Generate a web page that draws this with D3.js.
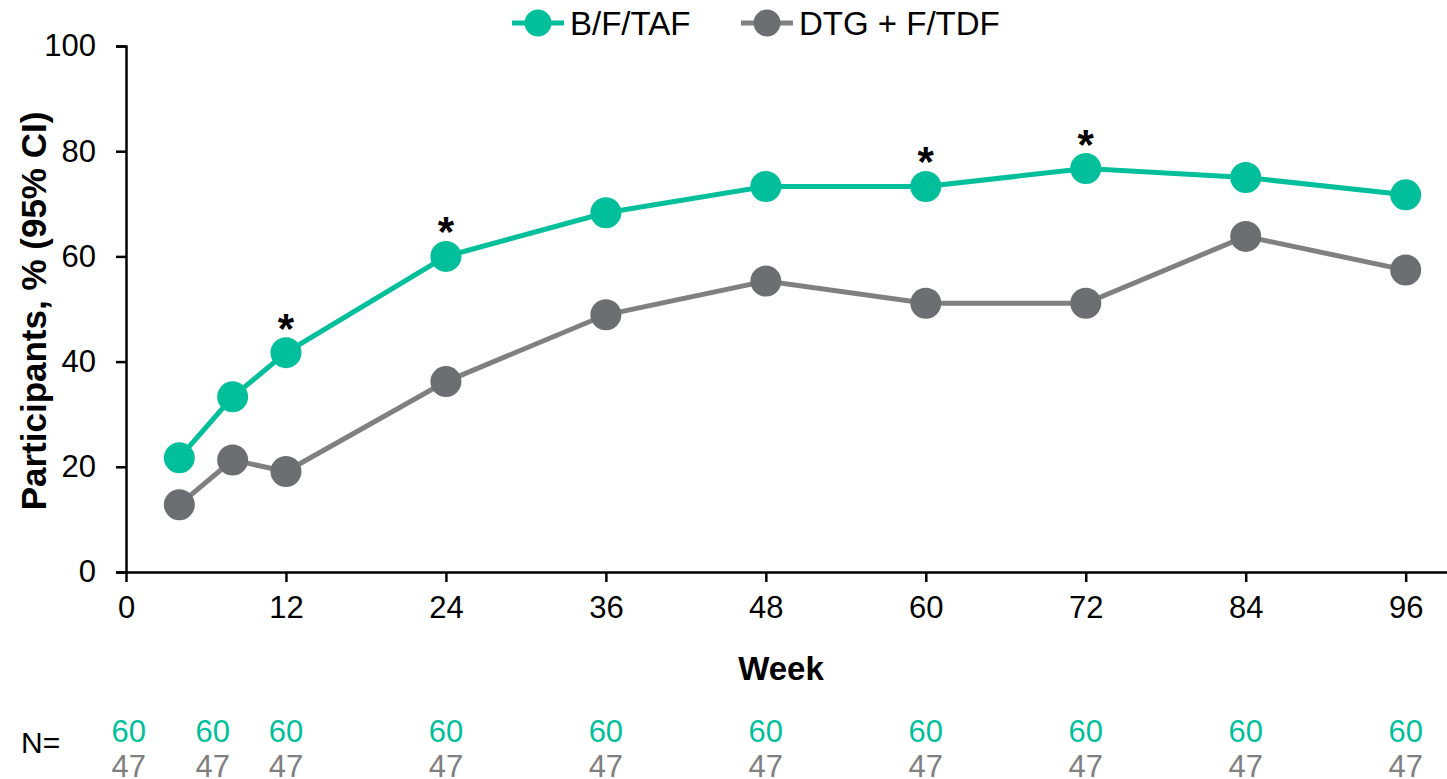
<!DOCTYPE html>
<html>
<head>
<meta charset="utf-8">
<script src="https://cdn.jsdelivr.net/npm/d3@7"></script>
<style>
  html, body { margin: 0; padding: 0; background: #fff; }
  svg { display: block; font-family: "Liberation Sans", Arial, sans-serif; }
  .axis path, .axis line { stroke: #000; stroke-width: 2.5; }
  .axis text { font-size: 31px; fill: #000; }
</style>
</head>
<body>
<svg id="chart"></svg>
<script>
// ── data ────────────────────────────────────────────────────────────────────
const weeks      = [4, 8, 12, 24, 36, 48, 60, 72, 84, 96];
const bftaf      = [21.7, 33.3, 41.7, 60.0, 68.3, 73.3, 73.3, 76.7, 75.0, 71.7];
const dtg        = [12.8, 21.3, 19.1, 36.2, 48.9, 55.3, 51.1, 51.1, 63.8, 57.4];
const starWeeks  = [12, 24, 60, 72];
const xTicks     = [0, 12, 24, 36, 48, 60, 72, 84, 96];
const yTicks     = [0, 20, 40, 60, 80, 100];
const nWeeks     = [0.2, 6.5, 12, 24, 36, 48, 60, 72, 84, 96];
const nBftaf     = [60, 60, 60, 60, 60, 60, 60, 60, 60, 60];
const nDtg       = [47, 47, 47, 47, 47, 47, 47, 47, 47, 47];
const seriesNames = ["B/F/TAF", "DTG + F/TDF"];

const GREEN = "#00bf9a", GREY_DOT = "#6d6e71", GREY_LINE = "#808080";

function drawChart() {
  const W = 1447, H = 779;
  const svg = d3.select("#chart").attr("width", W).attr("height", H);

  const x = d3.scaleLinear().domain([0, 99.1]).range([126, 1447]);
  const y = d3.scaleLinear().domain([0, 100]).range([572, 46]);

  // axes
  svg.append("g").attr("class", "axis x-axis").attr("transform", `translate(0,${y(0)})`)
    .call(d3.axisBottom(x).tickValues(xTicks).tickSize(10).tickPadding(14).tickSizeOuter(0))
    .selectAll("text").attr("dy", "0.71em");
  svg.append("g").attr("class", "axis y-axis").attr("transform", `translate(${x(0)},0)`)
    .call(d3.axisLeft(y).tickValues(yTicks).tickSize(10).tickPadding(20).tickSizeOuter(10));

  // axis titles
  svg.append("text").attr("x", 781).attr("y", 680).attr("text-anchor", "middle")
    .attr("font-size", 33).attr("font-weight", "bold").text("Week");
  svg.append("text").attr("transform", "translate(46,311) rotate(-90)").attr("text-anchor", "middle")
    .attr("font-size", 35).attr("font-weight", "bold").text("Participants, % (95% CI)");

  // series (grey drawn first so green sits on top)
  const series = [
    { name: seriesNames[1], values: dtg, line: GREY_LINE, dot: GREY_DOT },
    { name: seriesNames[0], values: bftaf, line: GREEN, dot: GREEN }
  ];

  const line = d3.line().x((d, i) => x(weeks[i])).y(d => y(d));
  series.forEach(s => {
    svg.append("path").datum(s.values).attr("d", line)
      .attr("fill", "none").attr("stroke", s.line).attr("stroke-width", 5);
    svg.selectAll(null).data(s.values).join("circle")
      .attr("cx", (d, i) => x(weeks[i])).attr("cy", d => y(d)).attr("r", 15.5)
      .attr("fill", s.dot);
  });

  // significance markers
  svg.selectAll("text.star").data(starWeeks).join("text").attr("class", "star")
    .attr("x", d => x(d)).attr("y", d => y(bftaf[weeks.indexOf(d)]) - 10)
    .attr("text-anchor", "middle").attr("font-size", 42).attr("font-weight", "bold").text("*");

  // legend
  const legend = [
    { name: seriesNames[0], line: GREEN, dot: GREEN, x0: 512 },
    { name: seriesNames[1], line: GREY_LINE, dot: GREY_DOT, x0: 741 }
  ];
  const lg = svg.selectAll("g.legend").data(legend).join("g").attr("class", "legend")
    .attr("transform", d => `translate(${d.x0},23)`);
  lg.append("line").attr("x1", 0).attr("x2", 52).attr("stroke", d => d.line).attr("stroke-width", 5);
  lg.append("circle").attr("cx", 26).attr("r", 13.5).attr("fill", d => d.dot);
  lg.append("text").attr("x", 58).attr("y", 12).attr("font-size", 33).text(d => d.name);

  // numbers at risk
  svg.append("text").attr("x", 21).attr("y", 753).attr("font-size", 30).text("N=");
  svg.selectAll("text.n1").data(nBftaf).join("text").attr("class", "n1")
    .attr("x", (d, i) => x(nWeeks[i])).attr("y", 742).attr("text-anchor", "middle")
    .attr("font-size", 31).attr("fill", GREEN).text(d => d);
  svg.selectAll("text.n2").data(nDtg).join("text").attr("class", "n2")
    .attr("x", (d, i) => x(nWeeks[i])).attr("y", 777).attr("text-anchor", "middle")
    .attr("font-size", 31).attr("fill", GREY_LINE).text(d => d);
}

drawChart();
</script>
</body>
</html>
